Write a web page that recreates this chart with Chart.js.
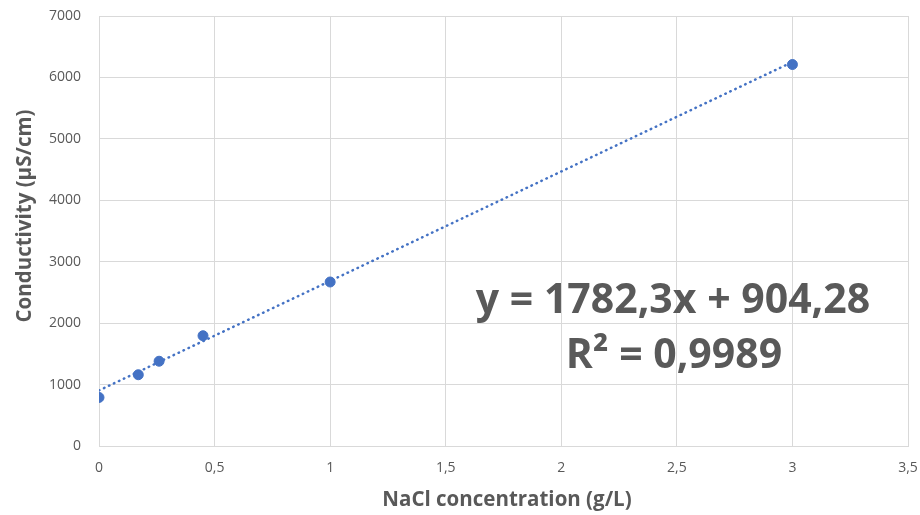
<!DOCTYPE html>
<html>
<head>
<meta charset="utf-8">
<script src="https://cdn.jsdelivr.net/npm/chart.js@4/dist/chart.umd.min.js"></script>
<style>
  html, body { margin: 0; padding: 0; background: #ffffff; }
  #wrap { width: 920px; height: 515px; }
</style>
</head>
<body>
<div id="wrap"><canvas id="c" width="920" height="515"></canvas></div>
<script>
// NaCl concentration (g/L) and measured conductivity (µS/cm)
const concentration = [0, 0.17, 0.26, 0.45, 1, 3];
const conductivity = [790, 1160, 1380, 1795, 2670, 6210];

// Linear fit reported for the series
const slope = 1782.3;
const intercept = 904.28;
const rSquared = 0.9989;
const fitRange = [0, 3];

const xTitle = 'NaCl concentration (g/L)';
const yTitle = 'Conductivity (µS/cm)';
const equationText = 'y = 1782,3x + 904,28';
const r2Text = 'R² = 0,9989';

const fmt = v => String(v).replace('.', ',');

const points = concentration.map((x, i) => ({ x, y: conductivity[i] }));
const fitLine = fitRange.map(x => ({ x, y: slope * x + intercept }));

const FONT = '"Open Sans", "Liberation Sans", sans-serif';
const TEXT = '#595959';
const GRID = '#d9d9d9';

// Axis titles and the fit equation
const labelsPlugin = {
  id: 'labels',
  afterDraw(chart) {
    const ctx = chart.ctx;
    ctx.save();
    ctx.fillStyle = TEXT;
    ctx.textAlign = 'center';
    ctx.textBaseline = 'middle';
    ctx.font = 'bold 20.5px ' + FONT;
    ctx.fillText(xTitle, 507, 500);
    ctx.save();
    ctx.translate(25, 216);
    ctx.rotate(-Math.PI / 2);
    ctx.fillText(yTitle, 0, 0);
    ctx.restore();
    ctx.font = 'bold 41px ' + FONT;
    ctx.fillText(equationText, 673, 301);
    ctx.fillText(r2Text, 674, 356);
    ctx.restore();
  }
};

new Chart(document.getElementById('c'), {
  type: 'scatter',
  data: {
    datasets: [
      {
        label: 'Linear fit',
        data: fitLine,
        showLine: true,
        borderColor: '#4472C4',
        borderWidth: 2.5,
        borderDash: [0.5, 5],
        borderCapStyle: 'round',
        pointRadius: 0,
        pointHoverRadius: 0,
        fill: false
      },
      {
        label: 'Conductivity',
        data: points,
        backgroundColor: '#4472C4',
        borderColor: '#4472C4',
        pointRadius: 5,
        pointHoverRadius: 5
      }
    ]
  },
  options: {
    responsive: false,
    animation: false,
    events: [],
    layout: { padding: { left: 0, right: 12, top: 16, bottom: 0 } },
    plugins: {
      legend: { display: false },
      tooltip: { enabled: false }
    },
    scales: {
      x: {
        type: 'linear',
        min: 0,
        max: 3.5,
        ticks: {
          stepSize: 0.5,
          padding: 14,
          color: TEXT,
          font: { family: FONT, size: 14 },
          callback: v => fmt(v)
        },
        grid: { color: GRID, lineWidth: 1, drawTicks: false },
        border: { color: GRID, width: 1 },
        afterFit(scale) {
          scale.height = 69;
          scale.paddingLeft = 0;
          scale.paddingRight = 0;
        }
      },
      y: {
        type: 'linear',
        min: 0,
        max: 7000,
        ticks: {
          stepSize: 1000,
          padding: 18,
          color: TEXT,
          font: { family: FONT, size: 14 },
          callback: v => String(v)
        },
        grid: { color: GRID, lineWidth: 1, drawTicks: false },
        border: { color: GRID, width: 1 },
        afterFit(scale) {
          scale.width = 99;
          scale.paddingTop = 0;
          scale.paddingBottom = 0;
        }
      }
    }
  },
  plugins: [labelsPlugin]
});
</script>
</body>
</html>
